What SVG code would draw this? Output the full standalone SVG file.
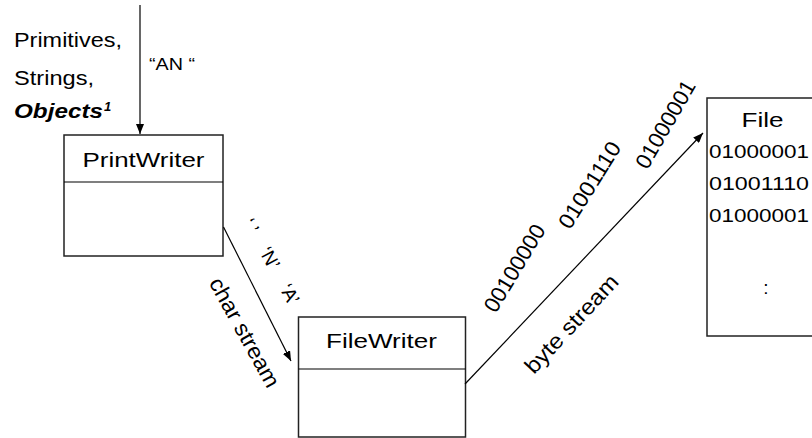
<svg xmlns="http://www.w3.org/2000/svg" width="812" height="438" viewBox="0 0 812 438">
<defs>
<marker id="ah" viewBox="0 0 10 8" refX="10" refY="4" markerWidth="10" markerHeight="8" markerUnits="userSpaceOnUse" orient="auto"><path d="M0,0 L10,4 L0,8 z" fill="#000"/></marker>
</defs>
<style>
text{font-family:"Liberation Sans",Arial,sans-serif;fill:#000}
.box{fill:#fff;stroke:#222;stroke-width:1.5}
.edge{stroke:#000;stroke-width:1.2;fill:none;marker-end:url(#ah)}
.line{stroke:#000;stroke-width:1.2;fill:none}
.n{font-size:21px;text-anchor:middle}
.lbl{font-size:20px}
.q{font-size:16px;text-anchor:middle}
.qr{font-size:19px;text-anchor:middle}
.bits{font-size:19px}
.rot{font-size:22px;text-anchor:middle}
</style>

<g id="input-labels">
<text class="lbl" x="14" y="47" textLength="108" lengthAdjust="spacingAndGlyphs">Primitives,</text>
<text class="lbl" x="14" y="85" textLength="80" lengthAdjust="spacingAndGlyphs">Strings,</text>
<text class="lbl" x="14" y="118" font-weight="bold" font-style="italic" textLength="89" lengthAdjust="spacingAndGlyphs">Objects</text>
<text x="104" y="111" font-size="13" font-weight="bold" font-style="italic">1</text>
<text class="q" x="172" y="70" textLength="46" lengthAdjust="spacingAndGlyphs">“AN “</text>
</g>

<g id="PrintWriter">
<rect class="box" x="64" y="135" width="159" height="121"/>
<line class="line" x1="64" y1="182" x2="223" y2="182"/>
<text class="n" x="143.5" y="167" textLength="122" lengthAdjust="spacingAndGlyphs">PrintWriter</text>
</g>

<g id="FileWriter">
<rect class="box" x="298.5" y="317" width="167" height="120"/>
<line class="line" x1="298.5" y1="369" x2="465.5" y2="369"/>
<text class="n" x="381.5" y="348" textLength="111" lengthAdjust="spacingAndGlyphs">FileWriter</text>
</g>

<g id="File">
<rect class="box" x="707" y="98" width="130" height="238"/>
<text class="n" x="762.5" y="127" textLength="42" lengthAdjust="spacingAndGlyphs">File</text>
<text class="bits" x="709" y="158" textLength="100" lengthAdjust="spacingAndGlyphs">01000001</text>
<text class="bits" x="709" y="190" textLength="100" lengthAdjust="spacingAndGlyphs">01001110</text>
<text class="bits" x="709" y="222" textLength="100" lengthAdjust="spacingAndGlyphs">01000001</text>
<text class="bits" x="766" y="294" text-anchor="middle">:</text>
</g>

<g id="connectors">
<line class="edge" x1="140" y1="5" x2="140" y2="134"/>
<line class="edge" x1="223.5" y1="227" x2="291" y2="361"/>
<line class="edge" x1="465" y1="384" x2="703" y2="133"/>
</g>

<g id="stream-labels">
<text class="rot" font-size="23" transform="translate(238,336) rotate(61)" textLength="122" lengthAdjust="spacingAndGlyphs">char stream</text>
<text class="qr" transform="translate(245,229) rotate(62)">‘ ’</text>
<text class="qr" transform="translate(264,261) rotate(62)">‘N’</text>
<text class="qr" transform="translate(284,297) rotate(62)">‘A’</text>
<text class="rot" font-size="23" transform="translate(577,329) rotate(-47)" textLength="126" lengthAdjust="spacingAndGlyphs">byte stream</text>
<text class="rot" transform="translate(521,272) rotate(-59)" textLength="98" lengthAdjust="spacingAndGlyphs">00100000</text>
<text class="rot" transform="translate(596,189) rotate(-58)" textLength="98" lengthAdjust="spacingAndGlyphs">01001110</text>
<text class="rot" transform="translate(672,128) rotate(-60)" textLength="98" lengthAdjust="spacingAndGlyphs">01000001</text>
</g>
</svg>
